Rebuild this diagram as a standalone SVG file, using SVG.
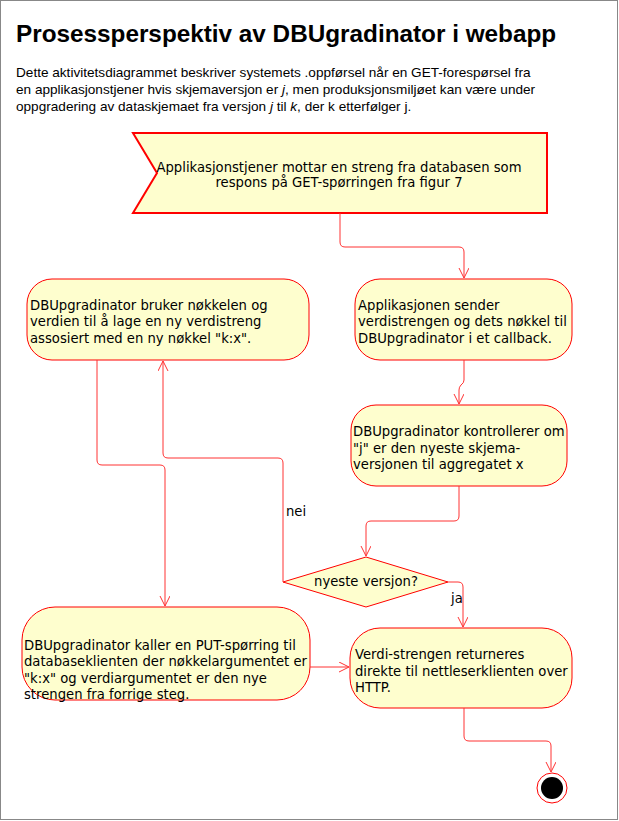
<svg xmlns="http://www.w3.org/2000/svg" width="619" height="821" viewBox="0 0 619 821">
<style>
.node{fill:#FEFECE;stroke:#FF0000;stroke-width:1}
.t{font-family:"DejaVu Sans",Verdana,sans-serif;font-size:13.2px;fill:#000}
.lbl{font-family:"DejaVu Sans",Verdana,sans-serif;font-size:13.2px;fill:#000}
.edge{fill:none;stroke:#FF3333;stroke-width:1}
</style>
<defs>
<marker id="arr" markerWidth="12" markerHeight="12" refX="10" refY="5" orient="auto" markerUnits="userSpaceOnUse">
<path d="M0,0 L10,5 L0,10" fill="none" stroke="#FF3333" stroke-width="1"/>
</marker>
</defs>
<rect x="0.5" y="0.5" width="617" height="819" fill="#fff" stroke="#888" stroke-width="1"/>
<text x="16" y="42" font-family="Liberation Sans,Arial,sans-serif" font-size="24.3" font-weight="bold">Prosessperspektiv av DBUgradinator i webapp</text>
<g font-family="Liberation Sans,Arial,sans-serif" font-size="13.6">
<text x="16" y="77">Dette aktivitetsdiagrammet beskriver systemets .oppførsel når en GET-forespørsel fra</text>
<text x="16" y="94">en applikasjonstjener hvis skjemaversjon er <tspan font-style="italic">j</tspan>, men produksjonsmiljøet kan være under</text>
<text x="16" y="111">oppgradering av dataskjemaet fra versjon <tspan font-style="italic">j</tspan> til <tspan font-style="italic">k</tspan>, der k etterfølger j.</text>
</g>
<g id="start">
<polygon points="133,133 547,133 547,213 133,213 157,173" fill="#FEFECE" stroke="#FF0000" stroke-width="2"/>
<text class="t" x="339" y="172" text-anchor="middle">Applikasjonstjener mottar en streng fra databasen som</text>
<text class="t" x="339" y="187" text-anchor="middle">respons på GET-spørringen fra figur 7</text>
</g>
<g id="n1">
<rect class="node" x="355" y="279" width="217" height="81" rx="25"/>
<text class="t" x="358" y="310">Applikasjonen sender</text>
<text class="t" x="358" y="326">verdistrengen og dets nøkkel til</text>
<text class="t" x="358" y="343">DBUpgradinator i et callback.</text>
</g>
<g id="n2">
<rect class="node" x="351" y="405" width="216" height="81" rx="25"/>
<text class="t" x="353" y="436">DBUpgradinator kontrollerer om</text>
<text class="t" x="353" y="453">"j" er den nyeste skjema-</text>
<text class="t" x="353" y="469">versjonen til aggregatet x</text>
</g>
<g id="d1">
<polygon class="node" points="366,557 448,582 366,607 283,582"/>
<text class="t" x="366" y="586" text-anchor="middle">nyeste versjon?</text>
</g>
<g id="n3">
<rect class="node" x="27" y="279" width="282" height="81" rx="25"/>
<text class="t" x="30" y="310">DBUpgradinator bruker nøkkelen og</text>
<text class="t" x="30" y="326">verdien til å lage en ny verdistreng</text>
<text class="t" x="30" y="343">assosiert med en ny nøkkel "k:x".</text>
</g>
<g id="n4">
<rect class="node" x="22" y="607" width="288" height="93" rx="33"/>
<text class="t" x="24" y="650">DBUpgradinator kaller en PUT-spørring til</text>
<text class="t" x="24" y="666">databaseklienten der nøkkelargumentet er</text>
<text class="t" x="24" y="683">"k:x" og verdiargumentet er den nye</text>
<text class="t" x="24" y="699">strengen fra forrige steg.</text>
</g>
<g id="n5">
<rect class="node" x="350" y="628" width="222" height="80" rx="30"/>
<text class="t" x="355" y="659">Verdi-strengen returneres</text>
<text class="t" x="355" y="676">direkte til nettleserklienten over</text>
<text class="t" x="355" y="692">HTTP.</text>
</g>
<g id="end">
<circle cx="552" cy="788" r="15" fill="none" stroke="#FF0000" stroke-width="1"/>
<circle cx="552" cy="788" r="11" fill="#000"/>
</g>
<g id="connectors">
<path class="edge" d="M340,213 V242 Q340,247 345,247 H459 Q464,247 464,252 V278" marker-end="url(#arr)"/>
<path class="edge" d="M464,360 V380 Q464,383 461,385 Q459,387 459,390 V404" marker-end="url(#arr)"/>
<path class="edge" d="M459,486 V516 Q459,521 454,521 H371 Q366,521 366,526 V556" marker-end="url(#arr)"/>
<path class="edge" d="M283,582 V463 Q283,458 278,458 H168 Q163,458 163,453 V361" marker-end="url(#arr)"/>
<text class="lbl" x="286" y="516">nei</text>
<path class="edge" d="M448,582 H458 Q463,582 463,587 V627" marker-end="url(#arr)"/>
<text class="lbl" x="451" y="603">ja</text>
<path class="edge" d="M97,360 V460 Q97,465 102,465 H160 Q165,465 165,470 V606" marker-end="url(#arr)"/>
<path class="edge" d="M310,667 H349" marker-end="url(#arr)"/>
<path class="edge" d="M464,708 V736 Q464,741 469,741 H546 Q551,741 551,746 V772" marker-end="url(#arr)"/>
</g>
</svg>
